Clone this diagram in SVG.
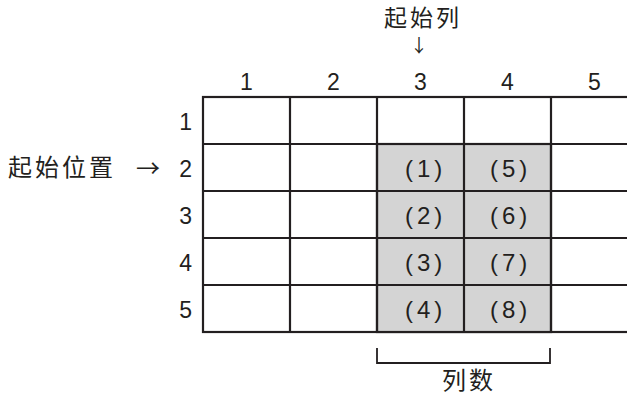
<svg xmlns="http://www.w3.org/2000/svg" width="627" height="398" viewBox="0 0 627 398">
<style>
text{font-family:"Liberation Sans",Arial,"Noto Sans CJK SC",sans-serif;fill:#231f20;font-size:23px}
.cjk{font-family:"Noto Sans CJK SC","Noto Sans CJK JP",sans-serif;font-size:24px;letter-spacing:3px}
.c{text-anchor:middle}
.e{text-anchor:end}
.p{font-size:24px;letter-spacing:4px}
.cell{fill:#fff;stroke:#231f20;stroke-width:2.2}
.sel{fill:#d4d4d4;stroke:#231f20;stroke-width:2.2}
.ln{fill:none;stroke:#231f20;stroke-width:1.8}
</style>
<rect width="627" height="398" fill="#fff"/>
<g id="grid">
<rect class="cell" x="203" y="97" width="435" height="235"/>
<rect class="sel" x="377" y="144" width="174" height="188"/>
<path class="ln" style="stroke-width:2.2" d="M290 97V332M377 97V332M464 97V332M551 97V332M203 144H638M203 191H638M203 238H638M203 285H638"/>
</g>
<g id="col-headers">
<text class="c" x="246.5" y="90">1</text>
<text class="c" x="333.5" y="90">2</text>
<text class="c" x="420.5" y="90">3</text>
<text class="c" x="507.5" y="90">4</text>
<text class="c" x="594.5" y="90">5</text>
</g>
<g id="row-headers">
<text class="e" x="192" y="130">1</text>
<text class="e" x="192" y="177">2</text>
<text class="e" x="192" y="224">3</text>
<text class="e" x="192" y="271">4</text>
<text class="e" x="192" y="318">5</text>
</g>
<g id="cells">
<text class="p" x="405" y="177">(1)</text>
<text class="p" x="405" y="224">(2)</text>
<text class="p" x="405" y="271">(3)</text>
<text class="p" x="405" y="318">(4)</text>
<text class="p" x="490" y="177">(5)</text>
<text class="p" x="490" y="224">(6)</text>
<text class="p" x="490" y="271">(7)</text>
<text class="p" x="490" y="318">(8)</text>
</g>
<g id="start-col">
<text class="cjk" x="384" y="26" style="font-size:23px">起始列</text>
<text class="cjk c" x="419" y="52" style="font-size:18px;letter-spacing:0">↓</text>
</g>
<g id="start-pos">
<text class="cjk" x="8" y="176">起始位置</text>
<text class="cjk" x="136" y="177" style="font-size:24px;letter-spacing:0">→</text>
</g>
<g id="connectors">
<path class="ln" d="M377 348V363H550V348"/>
</g>
<g id="count">
<text class="cjk" x="442" y="389">列数</text>
</g>
</svg>
